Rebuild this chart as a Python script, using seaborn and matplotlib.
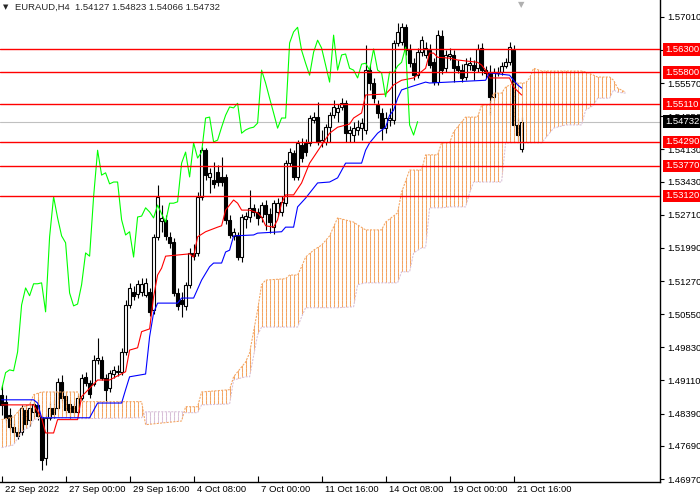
import matplotlib
matplotlib.use('Agg')
import matplotlib.pyplot as plt
import matplotlib.transforms as mtransforms
from matplotlib import hatch as mhatch
from matplotlib.path import Path
import numpy as np
import pandas as pd
import seaborn as sns

# EURAUD H4 candles (bar 0 = 22 Sep 2022)
opens = [1.4880, 1.4865, 1.4836, 1.4810, 1.4800, 1.4800, 1.4847, 1.4826, 1.4843, 1.4858,
         1.4832, 1.4743, 1.4830, 1.4852, 1.4852, 1.4908, 1.4878, 1.4860, 1.4856, 1.4843,
         1.4873, 1.4919, 1.4906, 1.4904, 1.4956, 1.4956, 1.4917, 1.4895, 1.4925, 1.4930,
         1.4930, 1.4973, 1.5075, 1.5103, 1.5099, 1.5103, 1.5097, 1.5103, 1.5064, 1.5223,
         1.5257, 1.5260, 1.5223, 1.5212, 1.5101, 1.5086, 1.5073, 1.5119, 1.5188, 1.5188,
         1.5310, 1.5411, 1.5353, 1.5346, 1.5364, 1.5353, 1.5353, 1.5260, 1.5225, 1.5227,
         1.5179, 1.5262, 1.5266, 1.5286, 1.5277, 1.5266, 1.5292, 1.5273, 1.5244, 1.5277,
         1.5277, 1.5296, 1.5383, 1.5405, 1.5353, 1.5422, 1.5427, 1.5427, 1.5477, 1.5483,
         1.5429, 1.5429, 1.5461, 1.5487, 1.5494, 1.5505, 1.5513, 1.5448, 1.5444, 1.5455,
         1.5459, 1.5455, 1.5585, 1.5557, 1.5509, 1.5492, 1.5459, 1.5477, 1.5477, 1.5644,
         1.5646, 1.5678, 1.5628, 1.5600, 1.5574, 1.5624, 1.5618, 1.5628, 1.5602, 1.5559,
         1.5659, 1.5589, 1.5615, 1.5618, 1.5594, 1.5585, 1.5570, 1.5596, 1.5596, 1.5589,
         1.5633, 1.5585, 1.5581, 1.5527, 1.5581, 1.5581, 1.5594, 1.5602, 1.5628, 1.5466,
         1.54127]
highs = [1.4902, 1.4880, 1.4852, 1.4826, 1.4808, 1.4858, 1.4858, 1.4865, 1.4869, 1.4871,
         1.4839, 1.4839, 1.4865, 1.4869, 1.4917, 1.4923, 1.4886, 1.4869, 1.4865, 1.4880,
         1.4925, 1.4930, 1.4912, 1.4967, 1.5004, 1.4964, 1.4925, 1.4934, 1.4943, 1.4945,
         1.4982, 1.5086, 1.5123, 1.5116, 1.5129, 1.5134, 1.5134, 1.5112, 1.5229, 1.5336,
         1.5292, 1.5270, 1.5234, 1.5221, 1.5112, 1.5103, 1.5125, 1.5199, 1.5208, 1.5320,
         1.5418, 1.5416, 1.5372, 1.5385, 1.5379, 1.5396, 1.5359, 1.5270, 1.5242, 1.5234,
         1.5273, 1.5277, 1.5325, 1.5294, 1.5286, 1.5299, 1.5303, 1.5286, 1.5303, 1.5307,
         1.5312, 1.5390, 1.5416, 1.5411, 1.5433, 1.5438, 1.5435, 1.5487, 1.5494, 1.5516,
         1.5455, 1.5468, 1.5494, 1.5520, 1.5511, 1.5524, 1.5520, 1.5464, 1.5472, 1.5477,
         1.5481, 1.5639, 1.5596, 1.5568, 1.5520, 1.5503, 1.5494, 1.5503, 1.5650, 1.5687,
         1.5687, 1.5685, 1.5642, 1.5611, 1.5633, 1.5659, 1.5646, 1.5642, 1.5611, 1.5672,
         1.5672, 1.5628, 1.5633, 1.5628, 1.5607, 1.5598, 1.5611, 1.5613, 1.5607, 1.5642,
         1.5644, 1.5594, 1.5596, 1.5589, 1.5592, 1.5602, 1.5611, 1.5646, 1.5639, 1.5481,
         1.54823]
lows = [1.4836, 1.4821, 1.4804, 1.4791, 1.4784, 1.4793, 1.4808, 1.4813, 1.4830, 1.4826,
        1.4717, 1.4728, 1.4826, 1.4830, 1.4847, 1.4865, 1.4839, 1.4830, 1.4834, 1.4836,
        1.4869, 1.4899, 1.4873, 1.4899, 1.4947, 1.4912, 1.4865, 1.4886, 1.4917, 1.4921,
        1.4923, 1.4967, 1.5069, 1.5086, 1.5090, 1.5095, 1.5093, 1.5051, 1.5056, 1.5216,
        1.5234, 1.5216, 1.5199, 1.5095, 1.5064, 1.5049, 1.5064, 1.5112, 1.5173, 1.5181,
        1.5303, 1.5346, 1.5318, 1.5329, 1.5333, 1.5333, 1.5251, 1.5221, 1.5216, 1.5173,
        1.5168, 1.5242, 1.5255, 1.5268, 1.5249, 1.5255, 1.5238, 1.5231, 1.5229, 1.5268,
        1.5268, 1.5290, 1.5377, 1.5346, 1.5346, 1.5385, 1.5398, 1.5420, 1.5470, 1.5422,
        1.5418, 1.5422, 1.5429, 1.5481, 1.5472, 1.5498, 1.5429, 1.5429, 1.5429, 1.5444,
        1.5433, 1.5446, 1.5542, 1.5513, 1.5481, 1.5433, 1.5448, 1.5464, 1.5468, 1.5637,
        1.5639, 1.5618, 1.5592, 1.5563, 1.5568, 1.5615, 1.5611, 1.5589, 1.5553, 1.5553,
        1.5576, 1.5581, 1.5607, 1.5559, 1.5579, 1.5559, 1.5563, 1.5585, 1.5563, 1.5581,
        1.5574, 1.5568, 1.5487, 1.5520, 1.5572, 1.5574, 1.5589, 1.5596, 1.5461, 1.5433,
        1.54066]
closes = [1.4858, 1.4830, 1.4810, 1.4800, 1.4791, 1.4852, 1.4817, 1.4852, 1.4860, 1.4834,
          1.4739, 1.4830, 1.4852, 1.4839, 1.4908, 1.4873, 1.4847, 1.4843, 1.4843, 1.4873,
          1.4917, 1.4906, 1.4882, 1.4956, 1.4960, 1.4917, 1.4891, 1.4928, 1.4934, 1.4932,
          1.4973, 1.5075, 1.5112, 1.5095, 1.5121, 1.5121, 1.5123, 1.5060, 1.5223, 1.5310,
          1.5264, 1.5225, 1.5210, 1.5101, 1.5073, 1.5077, 1.5119, 1.5188, 1.5181, 1.5310,
          1.5411, 1.5357, 1.5362, 1.5338, 1.5342, 1.5342, 1.5260, 1.5227, 1.5234, 1.5179,
          1.5266, 1.5268, 1.5286, 1.5277, 1.5264, 1.5292, 1.5273, 1.5255, 1.5296, 1.5296,
          1.5299, 1.5383, 1.5407, 1.5353, 1.5427, 1.5394, 1.5407, 1.5481, 1.5483, 1.5429,
          1.5433, 1.5461, 1.5487, 1.5505, 1.5503, 1.5513, 1.5448, 1.5455, 1.5459, 1.5461,
          1.5470, 1.5585, 1.5557, 1.5524, 1.5492, 1.5459, 1.5481, 1.5481, 1.5644, 1.5668,
          1.5678, 1.5628, 1.5600, 1.5574, 1.5624, 1.5650, 1.5633, 1.5596, 1.5559, 1.5661,
          1.5585, 1.5618, 1.5620, 1.5589, 1.5585, 1.5568, 1.5598, 1.5600, 1.5585, 1.5631,
          1.5585, 1.5579, 1.5527, 1.5581, 1.5579, 1.5594, 1.5602, 1.5635, 1.5466, 1.5444,
          1.54732]

# Ichimoku lines (bar index, price)
tenkan_bars = [0, 8, 10, 11, 13, 14, 19, 20, 24, 27, 31, 32, 34, 35, 37, 38, 39, 40, 41, 47,
               48, 49, 51, 54, 55, 56, 58, 59, 60, 62, 64, 65, 66, 68, 69, 70, 71, 73, 75, 77,
               78, 82, 84, 87, 88, 90, 91, 96, 97, 98, 100, 103, 106, 107, 108, 109, 112, 114,
               119, 120, 121, 122, 127, 128, 130]
tenkan_vals = [1.4858, 1.4858, 1.4830, 1.4797, 1.4797, 1.4826, 1.4826, 1.4876, 1.4912, 1.4912,
               1.4930, 1.4977, 1.4982, 1.5017, 1.5023, 1.5093, 1.5140, 1.5155, 1.5181, 1.5186,
               1.5179, 1.5223, 1.5234, 1.5244, 1.5247, 1.5281, 1.5303, 1.5296, 1.5281, 1.5281,
               1.5275, 1.5266, 1.5247, 1.5244, 1.5260, 1.5296, 1.5314, 1.5314, 1.5340, 1.5383,
               1.5396, 1.5448, 1.5461, 1.5468, 1.5481, 1.5492, 1.5531, 1.5533, 1.5542, 1.5553,
               1.5563, 1.5568, 1.5589, 1.5622, 1.5622, 1.5613, 1.5611, 1.5607, 1.5602, 1.5596,
               1.5585, 1.5568, 1.5568, 1.5548, 1.5531]
kijun_bars = [0, 8, 9, 10, 22, 24, 30, 31, 32, 36, 37, 38, 39, 44, 45, 48, 50, 52, 53, 55,
              56, 57, 58, 63, 64, 70, 71, 73, 74, 76, 79, 82, 84, 86, 90, 91, 92, 94, 96, 97,
              98, 99, 100, 102, 106, 107, 121, 122, 127, 128, 129, 130]
kijun_vals = [1.4869, 1.4869, 1.4862, 1.4830, 1.4830, 1.4862, 1.4862, 1.4891, 1.4919, 1.4925,
              1.5006, 1.5058, 1.5079, 1.5079, 1.5090, 1.5090, 1.5129, 1.5158, 1.5166, 1.5166,
              1.5190, 1.5194, 1.5225, 1.5227, 1.5231, 1.5234, 1.5244, 1.5244, 1.5288, 1.5307,
              1.5340, 1.5342, 1.5351, 1.5383, 1.5383, 1.5411, 1.5427, 1.5448, 1.5461, 1.5487,
              1.5498, 1.5524, 1.5542, 1.5548, 1.5559, 1.5557, 1.5563, 1.5579, 1.5574, 1.5563,
              1.5553, 1.5546]

# cloud edges (Senkou Span A / B), shifted 26 bars ahead
cloud_bars = [0, 3, 5, 7, 8, 10, 19, 20, 35, 36, 45, 46, 49, 50, 57, 58, 61, 62, 64, 65,
              66, 71, 72, 74, 75, 76, 78, 80, 82, 84, 88, 89, 91, 95, 96, 99, 100, 102, 103, 105,
              106, 107, 109, 110, 112, 113, 116, 117, 118, 119, 120, 122, 123, 125, 126, 128, 131, 132,
              133, 135, 138, 141, 145, 146, 148, 149, 152, 153, 154, 156]
senkou_a = [1.4826, 1.4832, 1.4852, 1.4858, 1.4880, 1.4886, 1.4886, 1.4865, 1.4865, 1.4815,
            1.4823, 1.4854, 1.4854, 1.4886, 1.4891, 1.4919, 1.4951, 1.4971, 1.5064, 1.5119,
            1.5129, 1.5132, 1.5140, 1.5140, 1.5158, 1.5179, 1.5194, 1.5205, 1.5225, 1.5264,
            1.5255, 1.5249, 1.5238, 1.5238, 1.5255, 1.5275, 1.5320, 1.5368, 1.5368, 1.5368,
            1.5401, 1.5401, 1.5401, 1.5427, 1.5427, 1.5451, 1.5483, 1.5483, 1.5483, 1.5483,
            1.5509, 1.5509, 1.5535, 1.5535, 1.5548, 1.5557, 1.5557, 1.5568, 1.5589, 1.5583,
            1.5583, 1.5583, 1.5583, 1.5581, 1.5574, 1.5570, 1.5570, 1.5563, 1.5546, 1.5537]
senkou_b = [1.4765, 1.4771, 1.4800, 1.4810, 1.4826, 1.4830, 1.4830, 1.4828, 1.4830, 1.4843,
            1.4843, 1.4841, 1.4841, 1.4858, 1.4860, 1.4912, 1.4919, 1.4919, 1.5010, 1.5027,
            1.5027, 1.5027, 1.5027, 1.5027, 1.5049, 1.5069, 1.5069, 1.5069, 1.5069, 1.5069,
            1.5071, 1.5119, 1.5123, 1.5123, 1.5123, 1.5123, 1.5147, 1.5147, 1.5188, 1.5199,
            1.5199, 1.5286, 1.5286, 1.5286, 1.5288, 1.5288, 1.5288, 1.5318, 1.5342, 1.5342,
            1.5342, 1.5342, 1.5342, 1.5342, 1.5427, 1.5427, 1.5427, 1.5427, 1.5427, 1.5427,
            1.5459, 1.5466, 1.5466, 1.5498, 1.5509, 1.5524, 1.5524, 1.5542, 1.5537, 1.5535]

levels = [1.56300, 1.55800, 1.55110, 1.54290, 1.53770, 1.53120]
last_price = 1.54732
price_ticks = [1.46970, 1.47690, 1.48390, 1.49110, 1.49830, 1.50550, 1.51270, 1.51990,
               1.52710, 1.53430, 1.54130, 1.54850, 1.55570, 1.56290, 1.57010]
date_ticks = [0, 16, 32, 48, 64, 80, 96, 112, 128]
date_labels = ['22 Sep 2022', '27 Sep 00:00', '29 Sep 16:00', '4 Oct 08:00', '7 Oct 00:00',
               '11 Oct 16:00', '14 Oct 08:00', '19 Oct 00:00', '21 Oct 16:00']


# the terminal draws the kumo with dotted vertical strokes, one every 4 px;
# swap matplotlib's solid '|' hatch for short dashes on a 4 px grid
class DashedVertical(mhatch.HatchPatternBase):
    def __init__(self, hatch, density):
        n = hatch.count('|') + hatch.count('+')
        self.num_lines = 25 if n else 0
        self.num_vertices = self.num_lines * 25 * 2

    def set_vertices_and_codes(self, vertices, codes):
        xs = (np.arange(25) * 4 + 2.5) / 100.0
        ys = (np.arange(25) * 4 + 0.5) / 100.0
        X, Y = np.meshgrid(xs, ys, indexing='ij')
        vertices[0::2, 0] = X.ravel()
        vertices[0::2, 1] = Y.ravel()
        vertices[1::2, 0] = X.ravel()
        vertices[1::2, 1] = Y.ravel() + 0.028
        codes[0::2] = Path.MOVETO
        codes[1::2] = Path.LINETO


mhatch._hatch_types[mhatch._hatch_types.index(mhatch.VerticalHatch)] = DashedVertical

sns.set_style('ticks')
plt.rcParams['font.family'] = ['Liberation Sans', 'DejaVu Sans']
plt.rcParams['hatch.linewidth'] = 0.75
FS = 6.8

fig = plt.figure(figsize=(7, 5), dpi=100)
ax = fig.add_axes([0, 18 / 500, 660 / 700, 482 / 500])

df = pd.DataFrame({'open': opens, 'high': highs, 'low': lows, 'close': closes})
df['bar'] = np.arange(len(df))
up = df[df.close >= df.open]
down = df[df.close < df.open]

# candles
ax.vlines(df.bar, df.low, df.high, color='black', lw=0.8, zorder=2)
ax.bar(up.bar, up.close - up.open, bottom=up.open, width=0.75, color='white',
       edgecolor='black', linewidth=0.8, zorder=2.5)
ax.bar(down.bar, down.open - down.close, bottom=down.close, width=0.75, color='black',
       edgecolor='black', linewidth=0.8, zorder=2.5)

# kumo, hatched over the candles like the terminal does
cx = np.array(cloud_bars)
ca = np.array(senkou_a)
cb = np.array(senkou_b)
ax.fill_between(cx, ca, cb, where=ca >= cb, interpolate=True, facecolor='none',
                edgecolor='#f4a460', hatch='|', linewidth=0, zorder=3)
ax.fill_between(cx, ca, cb, where=ca < cb, interpolate=True, facecolor='none',
                edgecolor='#d8bfd8', hatch='|', linewidth=0, zorder=3)
sns.lineplot(x=cx, y=ca, color='#f4a460', linestyle=(0, (2, 1.2)), linewidth=0.75, ax=ax, zorder=3)
sns.lineplot(x=cx, y=cb, color='#d8bfd8', linestyle=(0, (2, 1.2)), linewidth=0.75, ax=ax, zorder=3)

# tenkan, kijun, chikou (close drawn 26 bars back)
sns.lineplot(x=tenkan_bars, y=tenkan_vals, color='red', linewidth=0.8, ax=ax, zorder=4)
sns.lineplot(x=kijun_bars, y=kijun_vals, color='blue', linewidth=0.8, ax=ax, zorder=4)
sns.lineplot(x=df.bar[26:] - 26, y=df.close[26:], color='#00ff00', linewidth=0.8, ax=ax, zorder=4)

# levels + current price
ax.axhline(last_price, color='#c0c0c0', lw=0.8, zorder=1.5)
for lv in levels:
    ax.axhline(lv, color='red', lw=1.0, zorder=5)

ax.set_xlim(-0.4, 164.6)
ax.set_ylim(1.46905, 1.57373)
for s in ['top', 'left']:
    ax.spines[s].set_visible(False)
for s in ['right', 'bottom']:
    ax.spines[s].set_color('black')
    ax.spines[s].set_linewidth(1.0)

ax.yaxis.tick_right()
ax.set_yticks(price_ticks)
# 1.56290 sits right under the 1.56300 tag, so the terminal never shows it
ax.set_yticklabels(['' if abs(t - 1.5629) < 1e-6 else f'{t:.5f}' for t in price_ticks])
ax.tick_params(axis='y', direction='out', length=3, width=0.8, labelsize=FS, pad=2, colors='black')
ax.set_xticks(date_ticks)
ax.set_xticklabels(date_labels)
ax.tick_params(axis='x', direction='in', length=4, width=0.8, labelsize=FS, pad=2, colors='black')
shift = mtransforms.ScaledTranslation(3 / 100, 0, fig.dpi_scale_trans)
for lab in ax.get_xticklabels():
    lab.set_horizontalalignment('left')
    lab.set_transform(lab.get_transform() + shift)
ax.set_xlabel('')
ax.set_ylabel('')

# price tags on the right scale
tag_trans = mtransforms.offset_copy(
    mtransforms.blended_transform_factory(ax.transAxes, ax.transData), fig=fig, x=5, y=0, units='dots')
for lv in levels:
    ax.text(1.0, lv, f'{lv:.5f}', transform=tag_trans, ha='left', va='center', fontsize=FS,
            color='white', clip_on=False, zorder=6,
            bbox=dict(boxstyle='square,pad=0.18', fc='red', ec='none'))
ax.text(1.0, last_price, f'{last_price:.5f}', transform=tag_trans, ha='left', va='center',
        fontsize=FS, color='white', clip_on=False, zorder=6,
        bbox=dict(boxstyle='square,pad=0.18', fc='black', ec='none'))

# header and shift marker
fig.text(3 / 700, 1 - 7 / 500, '\u25bc', fontsize=5, va='center', ha='left', family='DejaVu Sans')
fig.text(15 / 700, 1 - 7 / 500, 'EURAUD,H4  1.54127 1.54823 1.54066 1.54732',
         fontsize=FS, va='center', ha='left')
fig.text(521 / 700, 1.0, '\u25bc', fontsize=6, va='top', ha='center', color='#b0b0b0',
         family='DejaVu Sans')

fig.savefig('out.png', dpi=100)
